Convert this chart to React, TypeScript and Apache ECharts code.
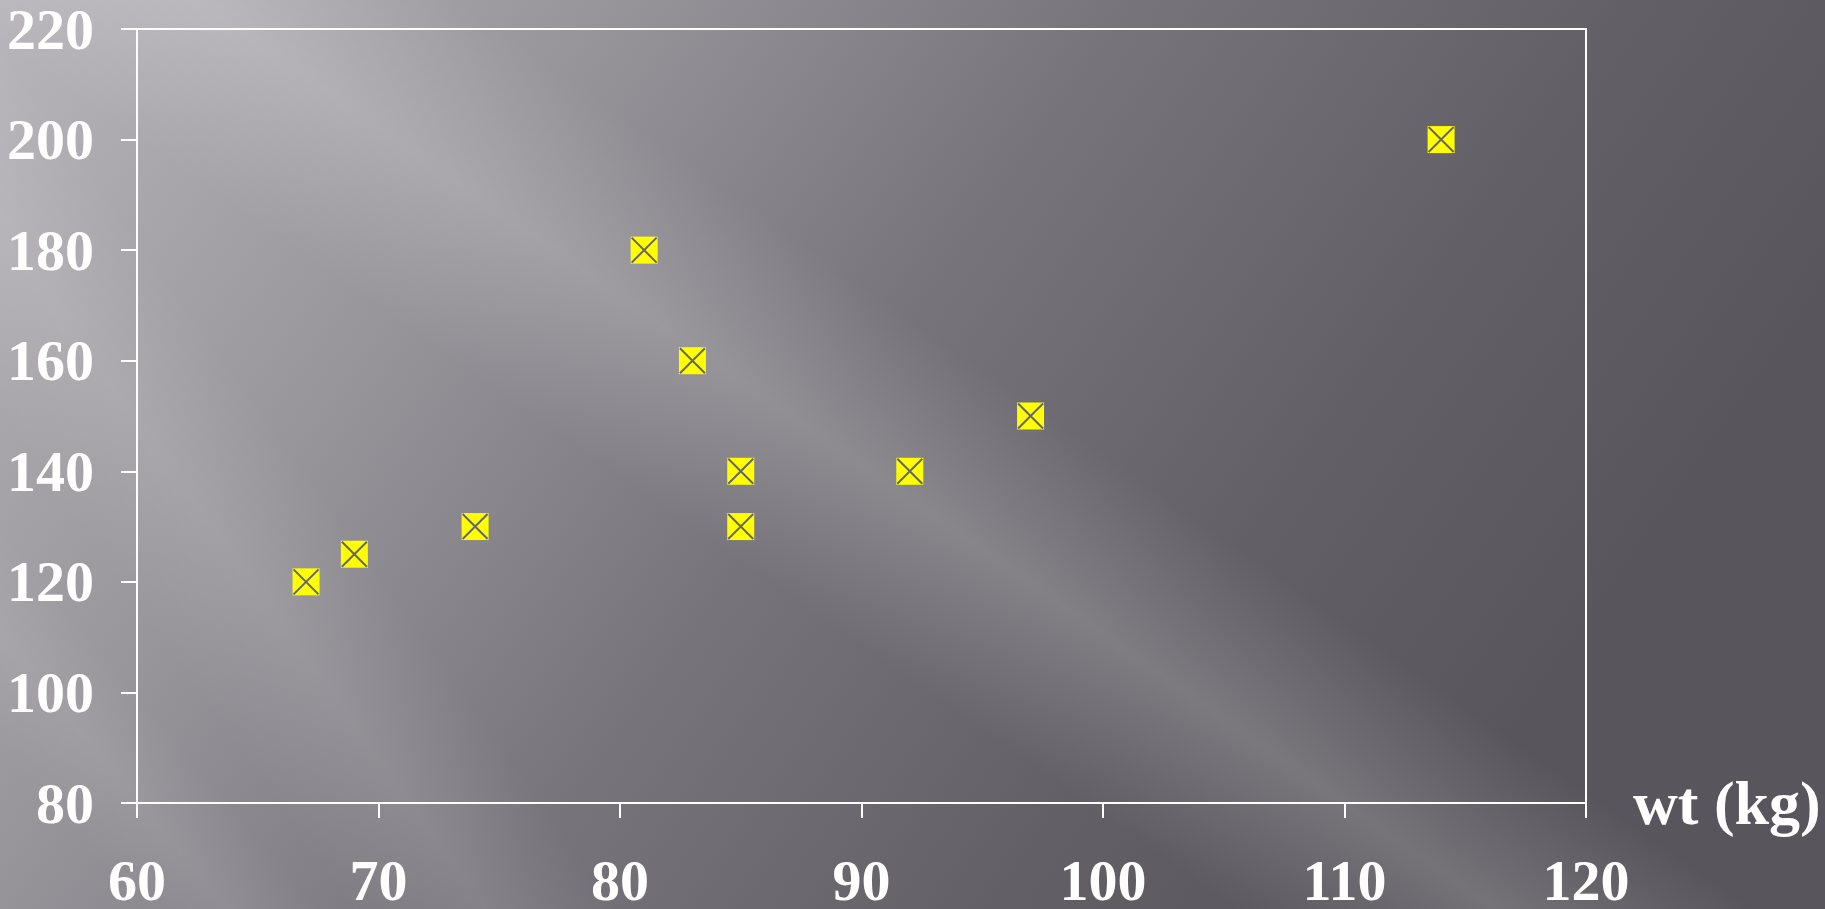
import React, { useEffect, useRef } from "react";
import * as echarts from "echarts";

const weights = [67, 69, 74, 81, 83, 85, 85, 92, 97, 114];
const values = [120, 125, 130, 180, 160, 140, 130, 140, 150, 200];
const xAxisName = "wt (kg)";

const FONT = "'Liberation Serif', 'Times New Roman', serif";

export default function App() {
  const ref = useRef<HTMLDivElement>(null);
  useEffect(() => {
    if (!ref.current) return;
    const chart = echarts.init(ref.current, null, { renderer: "svg" });
    const pts = weights.map((w, i) => [w, values[i]]);
    const band = (cx: number, cy: number, dx: number, dy: number, half: number, alpha: number) => {
      const len = Math.hypot(dx, dy);
      const ux = dx / len, uy = dy / len;
      const px = uy, py = -ux;
      const L = 1800;
      const ox = px * half, oy = py * half;
      return {
        type: "polygon",
        silent: true,
        z: -10,
        shape: {
          points: [
            [cx - ux * L + ox, cy - uy * L + oy],
            [cx + ux * L + ox, cy + uy * L + oy],
            [cx + ux * L - ox, cy + uy * L - oy],
            [cx - ux * L - ox, cy - uy * L - oy],
          ],
        },
        style: {
          fill: new echarts.graphic.LinearGradient(
            cx + ox, cy + oy, cx - ox, cy - oy,
            [
              { offset: 0, color: "rgba(255,255,255,0)" },
              { offset: 0.5, color: `rgba(255,255,255,${alpha})` },
              { offset: 1, color: "rgba(255,255,255,0)" },
            ],
            true
          ),
        },
      };
    };
    chart.setOption({
      animation: false,
      backgroundColor: new echarts.graphic.LinearGradient(0, 0, 1, 0.35, [
        { offset: 0, color: "#b8b5bb" },
        { offset: 0.3, color: "#97949a" },
        { offset: 0.55, color: "#77757b" },
        { offset: 0.8, color: "#626066" },
        { offset: 1, color: "#58565c" },
      ]),
      graphic: [
        band(940, 520, 1, 0.7, 150, 0.17),
        band(300, 650, 1, 1.4, 110, 0.1),
        band(120, 780, 1, 1.2, 70, 0.08),
      ],
      grid: {
        left: 137,
        top: 23,
        width: 1449,
        height: 781,
        show: true,
        borderColor: "#ffffff",
        borderWidth: 2,
        backgroundColor: "transparent",
      },
      xAxis: {
        type: "value",
        min: 60,
        max: 120,
        interval: 10,
        name: xAxisName,
        nameLocation: "end",
        nameGap: 47,
        nameTextStyle: {
          color: "#ffffff",
          fontFamily: FONT,
          fontWeight: "bold",
          fontSize: 62,
          lineHeight: 50,
          verticalAlign: "middle",
          padding: [4, 0, 0, 0],
        },
        axisLine: { show: true, lineStyle: { color: "#ffffff", width: 2 } },
        axisTick: { show: true, length: 15, lineStyle: { color: "#ffffff", width: 2 } },
        axisLabel: {
          color: "#ffffff",
          fontFamily: FONT,
          fontWeight: "bold",
          fontSize: 58,
          lineHeight: 40,
          margin: 77,
          verticalAlign: "middle",
        },
        splitLine: { show: false },
      },
      yAxis: {
        type: "value",
        min: 80,
        max: 220,
        interval: 20,
        axisLine: { show: true, lineStyle: { color: "#ffffff", width: 2 } },
        axisTick: { show: true, length: 16, lineStyle: { color: "#ffffff", width: 2 } },
        axisLabel: {
          color: "#ffffff",
          fontFamily: FONT,
          fontWeight: "bold",
          fontSize: 58,
          lineHeight: 40,
          margin: 43,
        },
        splitLine: { show: false },
      },
      series: [
        {
          type: "scatter",
          data: pts,
          symbol: "rect",
          symbolSize: 27,
          itemStyle: { color: "#ffff00", opacity: 1 },
          z: 2,
        },
        {
          type: "scatter",
          data: pts,
          symbol: "path://M0,0L10,10M10,0L0,10",
          symbolSize: 25,
          itemStyle: { color: "none", borderColor: "#66656b", borderWidth: 2, opacity: 1 },
          z: 3,
        },
      ],
    });
    return () => chart.dispose();
  }, []);
  return (
    <div
      ref={ref}
      style={{ position: "absolute", left: 0, top: 0, width: 1825, height: 909 }}
    />
  );
}
